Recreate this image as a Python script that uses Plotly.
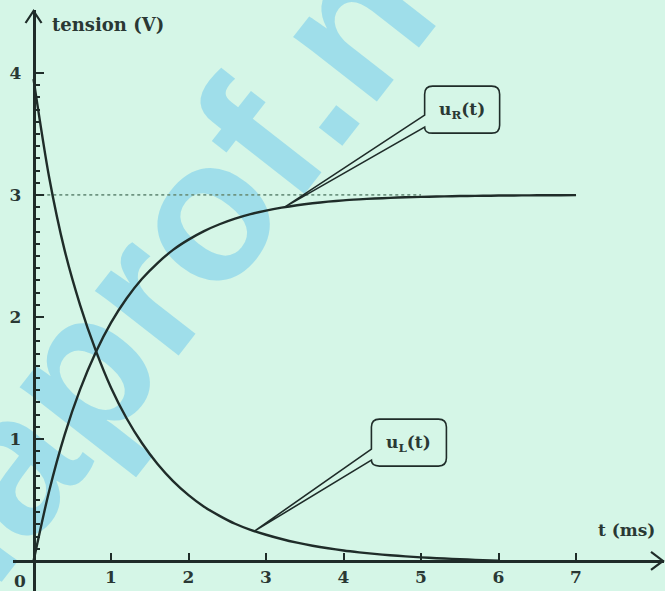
import numpy as np
import plotly.graph_objects as go

# ---------------- data ----------------
t_ms = [0.0, 0.2, 0.4, 0.6, 0.8, 1.0, 1.2, 1.4, 1.6, 1.8, 2.0, 2.2, 2.4, 2.6, 2.8,
        3.0, 3.2, 3.4, 3.6, 3.8, 4.0, 4.2, 4.4, 4.6, 4.8, 5.0, 5.2, 5.4, 5.6, 5.8,
        6.0, 6.2, 6.4, 6.6, 6.8, 7.0]
u_R = [0.0, 0.570, 1.032, 1.404, 1.707, 1.953, 2.151, 2.313, 2.442, 2.550, 2.634, 2.704, 2.760,
       2.806, 2.843, 2.872, 2.896, 2.916, 2.932, 2.945, 2.956, 2.964, 2.971, 2.976, 2.981, 2.984,
       2.987, 2.990, 2.992, 2.993, 2.995, 2.996, 2.997, 2.998, 2.998, 2.999]
t_L = [0.0, 0.2, 0.4, 0.6, 0.8, 1.0, 1.2, 1.4, 1.6, 1.8, 2.0, 2.2, 2.4, 2.6, 2.8,
       3.0, 3.2, 3.4, 3.6, 3.8, 4.0, 4.2, 4.4, 4.6, 4.8, 5.0, 5.2, 5.4, 5.6, 5.8, 6.0]
u_L = [3.95, 3.15, 2.55, 2.10, 1.73, 1.42, 1.17, 0.965, 0.795, 0.655, 0.540, 0.445, 0.370, 0.305,
       0.255, 0.215, 0.180, 0.150, 0.125, 0.104, 0.086, 0.071, 0.058, 0.047, 0.038, 0.030, 0.023,
       0.017, 0.012, 0.007, 0.003]
x_ticks = [1, 2, 3, 4, 5, 6, 7]
y_ticks = [1, 2, 3, 4]
y_minor = [round(0.1 * k, 1) for k in range(1, 40) if k % 10 != 0]
u_asym = 3.0
label_R_t = 3.24
label_L_t = 2.85

# ---------------- style ----------------
BG = "#d5f6e7"
INK = "#1f2c29"
TXT = "#2a3834"
SERIF = "DejaVu Serif"
XR = [-0.265, 8.135]
YR = [-0.246, 4.516]

fig = go.Figure()
fig.add_trace(go.Scatter(x=t_ms, y=u_R, mode="lines",
                         line=dict(color=INK, width=2.4, shape="spline", smoothing=0.8),
                         name="u_R", showlegend=False, hoverinfo="skip"))
fig.add_trace(go.Scatter(x=t_L, y=u_L, mode="lines",
                         line=dict(color=INK, width=2.4, shape="spline", smoothing=0.8),
                         name="u_L", showlegend=False, hoverinfo="skip"))

shapes = []
# asymptote dotted line
shapes.append(dict(type="line", xref="x", yref="y", x0=0.1, x1=5.0, y0=u_asym, y1=u_asym,
                   line=dict(color="#6f9582", width=1.8, dash="dot"), layer="below"))
# watermark
shapes.append(dict(type="rect", xref="paper", yref="paper", x0=0.15, x1=0.37, y0=0.561, y1=0.761,
                   line=dict(width=0), fillcolor="rgba(0,0,0,0)", layer="below",
                   label=dict(text="daprof.net", textangle=-52, textposition="middle center",
                              font=dict(size=200, color="rgba(70,185,240,0.38)",
                                        family="Liberation Sans", weight="bold"))))
# axis arrowheads
shapes.append(dict(type="path", xref="paper", yref="y", xsizemode="pixel", ysizemode="pixel",
                   xanchor=1, yanchor=0, path="M -13,9 L -1,0 L -13,-9",
                   line=dict(color=INK, width=2.2)))
shapes.append(dict(type="path", xref="x", yref="paper", xsizemode="pixel", ysizemode="pixel",
                   xanchor=0, yanchor=1, path="M -8,-13 L 0,-1 L 8,-13",
                   line=dict(color=INK, width=2.2)))

def callout(tx, series_t, series_v, box):
    ty = float(np.interp(tx, series_t, series_v))
    x0, x1, ytop, ybot, wy1, wy2 = box  # pixel offsets from tip (y up)
    r = 8
    p = (f"M 0,0 L {x0},{wy1} L {x0},{ytop - r} Q {x0},{ytop} {x0 + r},{ytop} "
         f"L {x1 - r},{ytop} Q {x1},{ytop} {x1},{ytop - r} L {x1},{ybot + r} "
         f"Q {x1},{ybot} {x1 - r},{ybot} L {x0 + r},{ybot} Q {x0},{ybot} {x0},{wy2} Z")
    return ty, dict(type="path", xref="x", yref="y", xsizemode="pixel", ysizemode="pixel",
                    xanchor=tx, yanchor=ty, path=p, line=dict(color=INK, width=1.6),
                    fillcolor="rgba(0,0,0,0)")

yR, sR = callout(label_R_t, t_ms, u_R, (140, 215, 121, 74, 92, 80))
yL, sL = callout(label_L_t, t_L, u_L, (117, 192, 112, 65, 82, 71))
shapes += [sR, sL]

annotations = [
    dict(x=label_R_t, y=yR, xref="x", yref="y", xshift=177, yshift=97, showarrow=False,
         text="<b>u<sub>R</sub>(t)</b>", font=dict(family=SERIF, size=17, color=TXT)),
    dict(x=label_L_t, y=yL, xref="x", yref="y", xshift=154, yshift=88, showarrow=False,
         text="<b>u<sub>L</sub>(t)</b>", font=dict(family=SERIF, size=17, color=TXT)),
    dict(x=0.21, y=4.40, xref="x", yref="y", xanchor="left", yanchor="middle", showarrow=False,
         text="<b>tension (V)</b>", font=dict(family=SERIF, size=18, color=TXT)),
    dict(x=8.05, y=0.254, xref="x", yref="y", xanchor="right", yanchor="middle",
         showarrow=False, text="<b>t (ms)</b>", font=dict(family=SERIF, size=17, color=TXT)),
    dict(x=-0.17, y=-0.16, xref="x", yref="y", showarrow=False,
         text="<b>0</b>", font=dict(family=SERIF, size=17, color=TXT)),
]

fig.update_layout(
    width=665, height=591, autosize=False,
    margin=dict(l=13, r=1, t=10, b=0),
    paper_bgcolor=BG, plot_bgcolor=BG,
    shapes=shapes, annotations=annotations, showlegend=False, hovermode=False,
    xaxis=dict(range=XR, anchor="free", position=(0 - YR[0]) / (YR[1] - YR[0]), automargin=False,
               showline=True, linewidth=2.5, linecolor=INK, showgrid=False, zeroline=False,
               tickmode="array", tickvals=x_ticks, ticktext=[str(v) for v in x_ticks],
               ticks="inside", ticklen=7, tickwidth=2, tickcolor=INK, ticklabelstandoff=0,
               tickfont=dict(family=SERIF, size=17, color=TXT, weight="bold")),
    yaxis=dict(range=YR, anchor="free", position=(0 - XR[0]) / (XR[1] - XR[0]), automargin=False,
               showline=True, linewidth=2.5, linecolor=INK, showgrid=False, zeroline=False,
               tickmode="array", tickvals=y_ticks, ticktext=[str(v) for v in y_ticks],
               ticks="inside", ticklen=9, tickwidth=2, tickcolor=INK, ticklabelstandoff=8,
               tickfont=dict(family=SERIF, size=17, color=TXT, weight="bold"),
               minor=dict(tickmode="array", tickvals=y_minor, ticks="inside", ticklen=5,
                          tickwidth=1.5, tickcolor=INK, showgrid=False)),
)

fig.write_html("out.html", config={"displayModeBar": False},
               post_script="document.body.style.margin='0';document.body.style.background='%s';" % BG)
